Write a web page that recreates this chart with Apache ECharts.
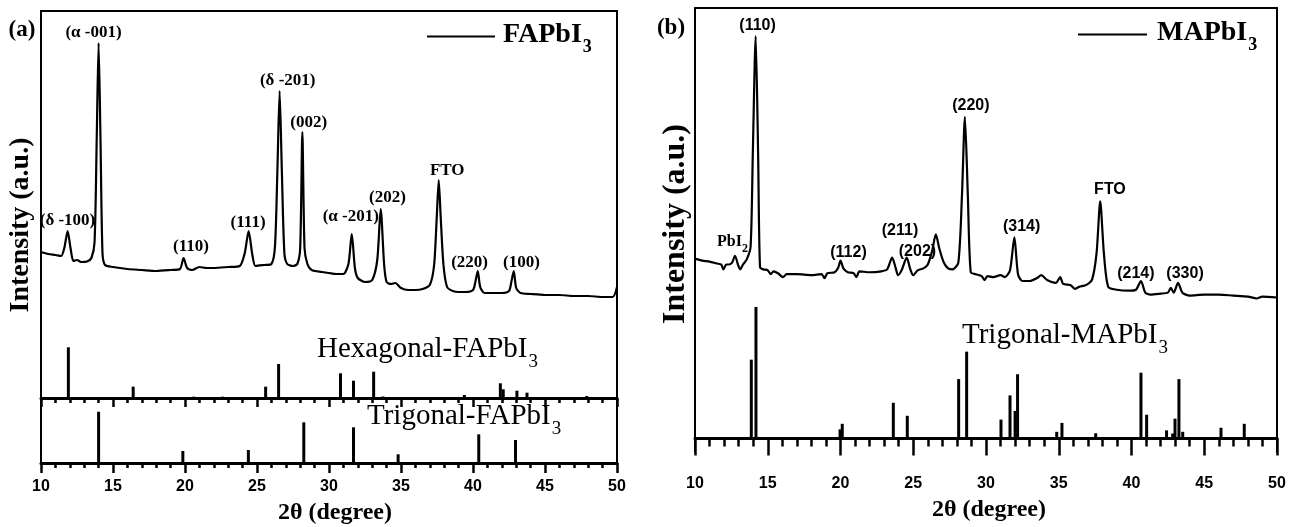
<!DOCTYPE html>
<html>
<head>
<meta charset="utf-8">
<script src="https://cdn.jsdelivr.net/npm/echarts@6/dist/echarts.min.js"></script>
<style>
html, body { margin: 0; padding: 0; background: #fff; }
#chart { width: 1298px; height: 527px; }
</style>
</head>
<body>
<div id="chart"></div>
<script>
'use strict';

// shared 2-theta ticks
var xTicks = [10, 15, 20, 25, 30, 35, 40, 45, 50];

// (a) FAPbI3 film pattern, [2theta, intensity a.u.]
var faCurve = [
  [10.0, 460], [10.5, 440], [11.0, 430], [11.4, 420], [11.62, 500], [11.85, 670], [12.05, 500],
  [12.25, 370], [12.5, 380], [12.8, 360], [13.2, 365], [13.5, 400], [13.72, 560], [13.87, 1600],
  [14.0, 2550], [14.13, 1600], [14.27, 450], [14.45, 330], [15.0, 310], [16.0, 290], [17.0, 280],
  [18.0, 270], [19.0, 280], [19.65, 290], [19.9, 400], [20.15, 300], [20.5, 280], [21.0, 310],
  [21.5, 300], [22.0, 300], [23.0, 310], [23.8, 320], [24.15, 450], [24.42, 670], [24.68, 430],
  [24.9, 320], [25.5, 330], [26.0, 340], [26.25, 520], [26.42, 1300], [26.57, 2070], [26.72, 1300],
  [26.9, 450], [27.1, 340], [27.5, 320], [27.8, 340], [28.0, 500], [28.15, 1660], [28.3, 500],
  [28.5, 340], [28.8, 280], [29.5, 260], [30.0, 250], [30.5, 240], [31.0, 240], [31.35, 340],
  [31.58, 640], [31.8, 300], [32.0, 200], [32.5, 160], [33.0, 180], [33.35, 380], [33.59, 890],
  [33.83, 330], [34.0, 160], [34.3, 140], [34.6, 150], [35.0, 100], [35.5, 80], [36.0, 80],
  [36.5, 90], [37.0, 130], [37.3, 330], [37.48, 800], [37.62, 1180], [37.76, 800], [37.95, 330],
  [38.2, 110], [38.6, 70], [39.0, 60], [39.5, 60], [40.0, 80], [40.15, 150], [40.33, 270],
  [40.5, 110], [40.8, 50], [41.5, 50], [42.0, 50], [42.5, 70], [42.65, 150], [42.83, 270],
  [43.0, 100], [43.3, 50], [44.0, 40], [45.0, 30], [46.0, 30], [47.0, 20], [48.0, 20],
  [49.0, 10], [49.7, 10], [50.0, 110]
];
var faPeaks = [
  [11.84, 770, '(δ -100)'], [13.65, 2650, '(α -001)'], [20.42, 510, '(110)'], [24.38, 753, '(111)'],
  [27.13, 2170, '(δ -201)'], [28.59, 1750, '(002)'], [31.51, 813, '(α -201)'], [34.06, 1000, '(202)'],
  [38.21, 1270, 'FTO'], [39.76, 350, '(220)'], [43.37, 350, '(100)']
];
// reference sticks (relative intensity)
var hexFA = [
  [11.9, 100], [16.4, 22.3], [20.6, 2.6], [22.6, 2.6], [25.6, 22.3], [26.5, 67.1], [30.8, 48.7],
  [31.7, 34.1], [33.1, 51.9], [33.75, 3], [39.4, 5.9], [41.9, 29], [42.1, 17.2], [43.05, 14.4],
  [43.75, 10.5], [46.25, 2], [47.9, 3.9]
];
var trigFA = [
  [14.0, 100], [19.85, 23.4], [24.4, 25.3], [28.25, 79.3], [31.7, 69.6], [34.8, 17], [40.4, 55.9],
  [42.95, 44.8]
];

// (b) MAPbI3 film pattern
var maCurve = [
  [10.0, 440], [10.5, 420], [11.0, 410], [11.5, 390], [11.8, 380], [11.95, 330], [12.15, 380],
  [12.3, 380], [12.55, 400], [12.75, 470], [12.95, 380], [13.1, 330], [13.3, 380], [13.55, 430],
  [13.82, 560], [13.97, 1500], [14.17, 2730], [14.34, 1500], [14.47, 350], [14.7, 330], [15.0, 320],
  [15.2, 280], [15.4, 310], [15.7, 290], [16.05, 250], [16.3, 280], [17.0, 280], [18.0, 270],
  [18.7, 280], [18.9, 240], [19.1, 290], [19.6, 300], [19.85, 350], [20.0, 420], [20.2, 340],
  [20.5, 300], [20.9, 290], [21.1, 250], [21.3, 310], [22.0, 300], [22.8, 310], [23.2, 330],
  [23.55, 450], [23.8, 340], [23.95, 270], [24.2, 320], [24.55, 450], [24.8, 330], [25.0, 270],
  [25.3, 320], [25.7, 340], [26.0, 380], [26.3, 520], [26.55, 690], [26.8, 540], [27.1, 400],
  [27.4, 340], [27.7, 330], [28.1, 400], [28.35, 1100], [28.55, 1900], [28.75, 1100], [28.95, 300],
  [29.3, 280], [29.7, 260], [29.9, 220], [30.1, 260], [30.5, 250], [31.0, 270], [31.3, 250],
  [31.65, 320], [31.95, 660], [32.2, 280], [32.5, 210], [33.0, 210], [33.5, 240], [33.8, 270],
  [34.2, 220], [34.8, 190], [35.1, 250], [35.3, 180], [35.8, 170], [36.1, 130], [36.4, 150],
  [36.9, 170], [37.3, 230], [37.6, 500], [37.85, 1030], [38.1, 500], [38.4, 150], [39.0, 120],
  [39.8, 110], [40.3, 120], [40.65, 210], [40.95, 90], [41.3, 70], [42.0, 80], [42.5, 90],
  [42.7, 140], [42.9, 90], [43.2, 190], [43.5, 90], [44.0, 60], [45.0, 70], [46.0, 70],
  [47.0, 60], [48.0, 50], [48.6, 30], [49.0, 50], [50.0, 40]
];
var maPeaks = [
  [12.58, 600, 'PbI2'], [14.3, 2843, '(110)'], [20.55, 507, '(112)'], [24.09, 733, '(211)'],
  [25.29, 517, '(202)'], [28.96, 2017, '(220)'], [32.45, 767, '(314)'], [38.52, 1150, 'FTO'],
  [40.3, 283, '(214)'], [43.68, 283, '(330)']
];
var trigMA = [
  [13.87, 59.9], [14.19, 100], [19.97, 6.9], [20.12, 11.1], [23.63, 27.1], [24.59, 17.2],
  [28.12, 45.1], [28.67, 66], [31.03, 14.3], [31.65, 32.7], [32.0, 20.9], [32.17, 48.8],
  [34.86, 5], [35.22, 11.8], [37.54, 3.9], [40.65, 50], [41.04, 18], [42.41, 6.1], [42.83, 3.7],
  [42.99, 15], [43.26, 45.1], [43.52, 5], [46.15, 8.1], [47.75, 11.1]
];

var serif = '"Liberation Serif", "Times New Roman", serif';
var sans = '"Liberation Sans", Arial, sans-serif';

// text with a subscript tail, e.g. FAPbI + 3
function subRich(size, subSize, weight, padLeft) {
  return {
    m: { fontFamily: serif, fontSize: size, fontWeight: weight, color: '#000',
         lineHeight: Math.round(size * 1.1), verticalAlign: 'top', padding: [0, 0, 0, padLeft || 0] },
    s: { fontFamily: serif, fontSize: subSize, fontWeight: weight, color: '#000',
         lineHeight: subSize, verticalAlign: 'top', padding: [Math.round(size * 1.16 - subSize * 0.84), 0, 0, 1] }
  };
}

function xAxisBase(grid, withLabels, tickLen, minorLen) {
  return {
    type: 'value', gridIndex: grid,
    min: xTicks[0], max: xTicks[xTicks.length - 1], interval: xTicks[1] - xTicks[0],
    axisLine: { show: true, onZero: false, lineStyle: { color: '#000', width: 3 } },
    axisTick: { show: true, length: tickLen, lineStyle: { color: '#000', width: 2.5 } },
    minorTick: { show: true, splitNumber: 5, length: minorLen, lineStyle: { color: '#000', width: 2.5 } },
    splitLine: { show: false },
    minorSplitLine: { show: false },
    axisLabel: { show: withLabels, color: '#000', fontFamily: sans, fontWeight: 'bold', fontSize: 16,
                 margin: 16, showMinLabel: true, showMaxLabel: true }
  };
}

function hiddenY(grid, min, max) {
  return { type: 'value', gridIndex: grid, min: min, max: max, show: false,
           axisLine: { onZero: false }, splitLine: { show: false } };
}

function sticks(name, list, xi, yi) {
  return {
    name: name, type: 'bar', xAxisIndex: xi, yAxisIndex: yi, barWidth: 3, silent: true,
    itemStyle: { color: '#000' }, data: list
  };
}

function peakLabels(list, xi, yi, font, size) {
  return {
    type: 'scatter', xAxisIndex: xi, yAxisIndex: yi, symbolSize: 1, silent: true,
    itemStyle: { color: 'rgba(0,0,0,0)', opacity: 1 },
    data: list.map(function (p) { return { value: [p[0], p[1]], name: p[2] }; }),
    label: {
      show: true, position: 'inside', color: '#000', opacity: 1, textBorderWidth: 0,
      fontFamily: font, fontWeight: 'bold', fontSize: size,
      formatter: function (p) {
        return p.name === 'PbI2' ? '{t|PbI}{u|2}' : p.name;
      },
      rich: {
        t: { fontFamily: serif, fontWeight: 'bold', fontSize: 16, color: '#000', lineHeight: 18, verticalAlign: 'top' },
        u: { fontFamily: serif, fontWeight: 'bold', fontSize: 12, color: '#000', lineHeight: 12, verticalAlign: 'top', padding: [9, 0, 0, 0] }
      }
    }
  };
}

function curve(name, list, xi, yi) {
  return {
    name: name, type: 'line', xAxisIndex: xi, yAxisIndex: yi, data: list,
    showSymbol: false, smooth: 0.25, color: '#000',
    lineStyle: { color: '#000', width: 2.2 }
  };
}

var axisBX = xAxisBase(2, true, 17, 8);
axisBX.axisLine.onZero = true;
axisBX.axisLine.onZeroAxisIndex = 4;
axisBX.axisLabel.margin = 24;
axisBX.name = '2θ (degree)';
axisBX.nameLocation = 'middle';
axisBX.nameGap = 46;
axisBX.nameTextStyle = { fontFamily: serif, fontWeight: 'bold', fontSize: 24, color: '#000', padding: [0, 0, 0, 6] };

var axisA2X = xAxisBase(1, true, 10, 5);
axisA2X.name = '2θ (degree)';
axisA2X.nameLocation = 'middle';
axisA2X.nameGap = 38;
axisA2X.nameTextStyle = { fontFamily: serif, fontWeight: 'bold', fontSize: 24, color: '#000', padding: [0, 0, 0, 12] };

var frameLine = { show: true, onZero: false, lineStyle: { color: '#000', width: 2 } };

var option = {
  backgroundColor: '#fff',
  animation: false,
  grid: [
    { left: 41, right: 681, top: 11, height: 387, show: true, borderColor: '#000', borderWidth: 2 },
    { left: 41, right: 681, top: 398, height: 65, show: true, borderColor: '#000', borderWidth: 2 },
    { left: 695, right: 21, top: 8, height: 457 }
  ],
  xAxis: [
    xAxisBase(0, false, 9, 5),
    axisA2X,
    axisBX,
    { type: 'value', gridIndex: 2, position: 'top', min: 10, max: 50,
      axisLine: frameLine, axisTick: { show: false }, axisLabel: { show: false }, splitLine: { show: false } }
  ],
  yAxis: [
    hiddenY(0, -1000, 2870),
    hiddenY(0, 0, 763),
    hiddenY(1, 0, 126.7),
    { type: 'value', gridIndex: 2, position: 'left', min: -1550, max: 3020,
      axisLine: frameLine, axisTick: { show: false }, axisLabel: { show: false }, splitLine: { show: false } },
    { type: 'value', gridIndex: 2, position: 'right', min: -10.35, max: 327.4,
      axisLine: frameLine, axisTick: { show: false }, axisLabel: { show: false }, splitLine: { show: false } }
  ],
  legend: [
    { data: ['FAPbI3'], left: 427, top: 21, padding: 0, icon: 'rect', itemWidth: 68, itemHeight: 2,
      formatter: function (n) { return '{m|' + n.slice(0, -1) + '}{s|' + n.slice(-1) + '}'; },
      textStyle: { rich: subRich(28, 18, 'bold', 3) } },
    { data: ['MAPbI3'], left: 1078, top: 19, padding: 0, icon: 'rect', itemWidth: 69, itemHeight: 2,
      formatter: function (n) { return '{m|' + n.slice(0, -1) + '}{s|' + n.slice(-1) + '}'; },
      textStyle: { rich: subRich(28, 18, 'bold', 5) } }
  ],
  graphic: [
    { type: 'text', x: 22, y: 30, style: { text: '(a)', font: 'bold 23px ' + serif, fill: '#000', align: 'center', verticalAlign: 'middle' } },
    { type: 'text', x: 671, y: 28, style: { text: '(b)', font: 'bold 23px ' + serif, fill: '#000', align: 'center', verticalAlign: 'middle' } },
    { type: 'text', x: 21, y: 225, rotation: Math.PI / 2,
      style: { text: 'Intensity (a.u.)', font: 'bold 28px ' + serif, fill: '#000', align: 'center', verticalAlign: 'middle' } },
    { type: 'text', x: 676, y: 224, rotation: Math.PI / 2,
      style: { text: 'Intensity (a.u.)', font: 'bold 32px ' + serif, fill: '#000', align: 'center', verticalAlign: 'middle' } },
    { type: 'text', x: 317, y: 335, style: { text: '{m|Hexagonal-FAPbI}{s|3}', rich: subRich(29, 19, 'normal') } },
    { type: 'text', x: 367, y: 402, style: { text: '{m|Trigonal-FAPbI}{s|3}', rich: subRich(29, 19, 'normal') } },
    { type: 'text', x: 962, y: 321, style: { text: '{m|Trigonal-MAPbI}{s|3}', rich: subRich(29, 19, 'normal') } }
  ],
  series: [
    curve('FAPbI3', faCurve, 0, 0),
    sticks('Hexagonal-FAPbI3', hexFA, 0, 1),
    sticks('Trigonal-FAPbI3', trigFA, 1, 2),
    peakLabels(faPeaks, 0, 0, serif, 17),
    curve('MAPbI3', maCurve, 2, 3),
    sticks('Trigonal-MAPbI3', trigMA, 2, 4),
    peakLabels(maPeaks, 2, 3, sans, 16)
  ]
};

var chart = echarts.init(document.getElementById('chart'));
chart.setOption(option);
</script>
</body>
</html>
